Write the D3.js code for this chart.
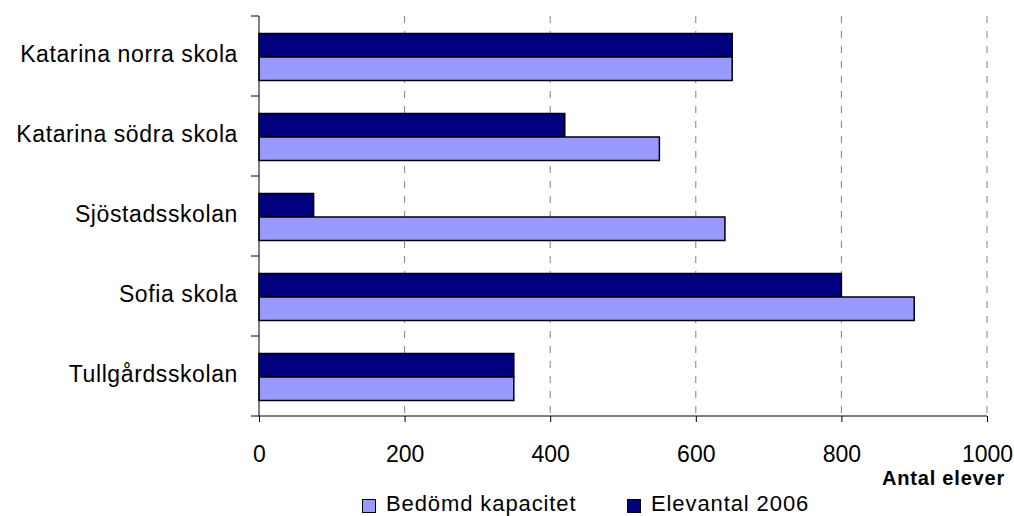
<!DOCTYPE html>
<html><head><meta charset="utf-8">
<script src="https://cdn.jsdelivr.net/npm/d3@7"></script>
<style>body{margin:0;background:#fff}svg{display:block}text{font-family:"Liberation Sans",Arial,sans-serif}</style>
</head><body><div id="chart"></div>
<script>
const categories = ["Katarina norra skola","Katarina södra skola","Sjöstadsskolan","Sofia skola","Tullgårdsskolan"];
const elevantal2006 = [650, 420, 75, 800, 350];
const kapacitet = [650, 550, 640, 900, 350];
const seriesNames = ["Elevantal 2006","Bedömd kapacitet"];
const xTicks = [0,200,400,600,800,1000];
const xTitle = "Antal elever";

const W=1014,H=516;
const svg=d3.select("#chart").append("svg").attr("width",W).attr("height",H);
const x=d3.scaleLinear().domain([0,1000]).range([259,987]);
const y=d3.scaleBand().domain(categories).range([16,416]);
const sub=d3.scaleBand().domain(seriesNames).range([0,47]);
const colors={"Elevantal 2006":"#000080","Bedömd kapacitet":"#9999FF"};

// grid
svg.append("g").selectAll("line").data(xTicks.filter(d=>d>0)).join("line")
 .attr("x1",d=>x(d)).attr("x2",d=>x(d)).attr("y1",16).attr("y2",416)
 .attr("stroke","#808080").attr("stroke-width",1).attr("stroke-dasharray","7,8");

// bars
const rows=categories.map((c,i)=>({c,vals:[{s:"Elevantal 2006",v:elevantal2006[i]},{s:"Bedömd kapacitet",v:kapacitet[i]}]}));
const g=svg.append("g").selectAll("g").data(rows).join("g")
 .attr("transform",d=>`translate(0,${y(d.c)+17.5})`);
g.selectAll("rect").data(d=>d.vals).join("rect")
 .attr("x",x(0)).attr("y",d=>sub(d.s)).attr("width",d=>x(d.v)-x(0)).attr("height",sub.bandwidth())
 .attr("fill",d=>colors[d.s]).attr("stroke","#000").attr("stroke-width",1.5);

// y axis
const yAxis=svg.append("g").attr("transform",`translate(${x(0)},0)`);
yAxis.append("line").attr("x1",0).attr("x2",0).attr("y1",16).attr("y2",416).attr("stroke","#000");
const bounds=[16].concat(categories.map(c=>y(c)+y.bandwidth()));
yAxis.selectAll("line.t").data(bounds).join("line").attr("class","t")
 .attr("x1",-8).attr("x2",0).attr("y1",d=>d).attr("y2",d=>d).attr("stroke","#000");
svg.append("g").selectAll("text").data(categories).join("text")
 .attr("x",238).attr("y",d=>y(d)+y.bandwidth()/2+6).attr("text-anchor","end")
 .attr("font-size",23).attr("letter-spacing",0.6).attr("fill","#000").text(d=>d);

// x axis
const xAxis=svg.append("g").attr("transform","translate(0,416)")
 .call(d3.axisBottom(x).tickValues(xTicks).tickSize(6).tickFormat(d3.format("d")));
xAxis.select(".domain").attr("d",`M${x(0)},0H${x(1000)}`);
xAxis.selectAll("text").attr("y",46).attr("dy",0).attr("font-size",23).attr("font-family","Liberation Sans").attr("fill","#000");
xAxis.selectAll("line").attr("stroke","#000");
svg.append("text").attr("x",1005).attr("y",485).attr("text-anchor","end")
 .attr("font-size",20).attr("font-weight","bold").attr("letter-spacing",0.8).text(xTitle);

// legend
const leg=[{s:"Bedömd kapacitet",x:362},{s:"Elevantal 2006",x:627}];
const lg=svg.append("g").selectAll("g").data(leg).join("g").attr("transform",d=>`translate(${d.x},0)`);
lg.append("rect").attr("x",0.5).attr("y",499.5).attr("width",13).attr("height",13)
 .attr("fill",d=>colors[d.s]).attr("stroke","#000");
lg.append("text").attr("x",24).attr("y",511).attr("font-size",22).attr("letter-spacing",0.9).text(d=>d.s);
</script></body></html>
